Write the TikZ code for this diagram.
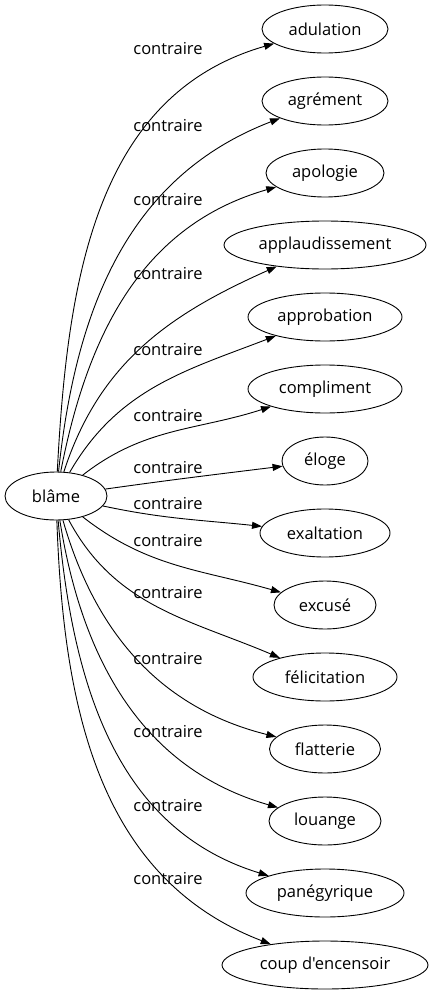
\documentclass[tikz,border=0pt]{standalone}
\usepackage{fontspec}
\setmainfont{Open Sans}[Ligatures=TeXOff]
\usetikzlibrary{shapes.geometric}
\usetikzlibrary{arrows.meta}

\begin{document}
\begin{tikzpicture}
      [
        x = 1pt, y = 1pt,
        word/.style = {ellipse, draw, line width=0.9pt, inner sep=0pt,
            minimum height=48pt, font=\fontsize{16.5}{18}\selectfont},
        rel/.style = {draw, line width=0.9pt, -{Triangle[length=10pt,width=7pt]}},
        lbl/.style = {font=\fontsize{16.5}{18}\selectfont, inner sep=0pt}
      ]

      \useasboundingbox (0,0) rectangle (433,-995);

      % source word
      \node[word, minimum width=102pt] (blame) at (56,-496) {blâme};

      % contraires
      \node[word, minimum width=126pt] (adulation) at (325,-29) {adulation};
      \node[word, minimum width=126pt] (agrement) at (325,-101) {agrément};
      \node[word, minimum width=118pt] (apologie) at (325,-173) {apologie};
      \node[word, minimum width=202pt] (applaudissement) at (325,-245) {applaudissement};
      \node[word, minimum width=154pt] (approbation) at (325,-317) {approbation};
      \node[word, minimum width=154pt] (compliment) at (325,-389) {compliment};
      \node[word, minimum width=86pt] (eloge) at (325,-461) {éloge};
      \node[word, minimum width=130pt] (exaltation) at (325,-533) {exaltation};
      \node[word, minimum width=102pt] (excuse) at (325,-605) {excusé};
      \node[word, minimum width=144pt] (felicitation) at (325,-677) {félicitation};
      \node[word, minimum width=111pt] (flatterie) at (325,-749) {flatterie};
      \node[word, minimum width=112pt] (louange) at (325,-821) {louange};
      \node[word, minimum width=158pt] (panegyrique) at (325,-893) {panégyrique};
      \node[word, minimum width=206pt] (coup) at (325,-965) {coup d'encensoir};

      % edges
      \draw[rel] (blame) to[out=87,in=196] (adulation);
      \draw[rel] (blame) to[out=84,in=201] (agrement);
      \draw[rel] (blame) to[out=79,in=196] (apologie);
      \draw[rel] (blame) to[out=72,in=204] (applaudissement);
      \draw[rel] (blame) to[out=60,in=201] (approbation);
      \draw[rel] (blame) to[out=38,in=198] (compliment);
      \draw[rel] (blame) to[out=8,in=187] (eloge);
      \draw[rel] (blame) to[out=-12,in=174] (exaltation);
      \draw[rel] (blame) to[out=-38,in=164] (excuse);
      \draw[rel] (blame) to[out=-62,in=157] (felicitation);
      \draw[rel] (blame) to[out=-74,in=166] (flatterie);
      \draw[rel] (blame) to[out=-81,in=164] (louange);
      \draw[rel] (blame) to[out=-85,in=163] (panegyrique);
      \draw[rel] (blame) to[out=-88,in=159] (coup);

      % edge labels
      \node[lbl] at (168,-49) {contraire};
      \node[lbl] at (168,-126) {contraire};
      \node[lbl] at (168,-200) {contraire};
      \node[lbl] at (168,-274) {contraire};
      \node[lbl] at (168,-350) {contraire};
      \node[lbl] at (168,-416) {contraire};
      \node[lbl] at (168,-468) {contraire};
      \node[lbl] at (168,-504) {contraire};
      \node[lbl] at (168,-541) {contraire};
      \node[lbl] at (168,-593) {contraire};
      \node[lbl] at (168,-659) {contraire};
      \node[lbl] at (168,-732) {contraire};
      \node[lbl] at (168,-806) {contraire};
      \node[lbl] at (168,-879) {contraire};

    \end{tikzpicture}
\end{document}
